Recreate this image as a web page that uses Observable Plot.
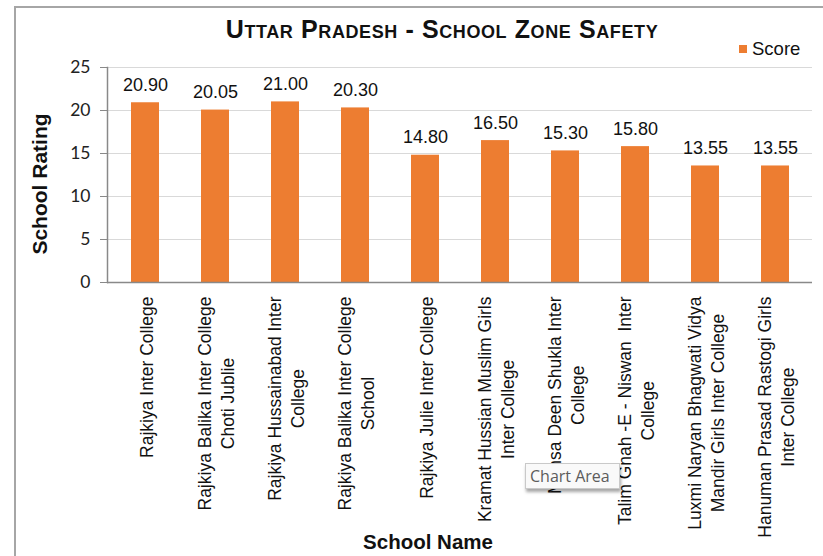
<!DOCTYPE html>
<html><head><meta charset="utf-8">
<script src="https://cdn.jsdelivr.net/npm/d3@7"></script>
<script src="https://cdn.jsdelivr.net/npm/@observablehq/plot@0.6"></script>
<style>
html,body{margin:0;padding:0;background:#fff;overflow:hidden;width:823px;height:556px;}
#wrap{position:relative;width:823px;height:556px;overflow:hidden;font-family:"Liberation Sans",Arial,sans-serif;}
#border{position:absolute;left:14px;top:6px;width:1000px;height:1000px;border:2px solid #a6a6a6;box-sizing:border-box;}
#chart{position:absolute;left:0;top:0;}
#title{position:absolute;left:442px;top:15px;transform:translateX(-50%);white-space:nowrap;font-weight:bold;font-size:25px;letter-spacing:0.6px;font-variant:small-caps;color:#111;}
#legend{position:absolute;left:739px;top:38px;white-space:nowrap;font-size:18.5px;color:#111;display:flex;align-items:center;}
#legend .sw{display:inline-block;width:8px;height:8px;background:#ED7D31;margin-right:5px;}
#tip{position:absolute;left:525px;top:463px;width:95px;height:26px;box-sizing:border-box;border:1px solid #c9c9c9;background:#f9f9f9;box-shadow:1px 3px 3px rgba(0,0,0,0.35);font-family:"Open Sans",sans-serif;font-size:16px;color:#5c5c5c;line-height:24px;padding-left:4px;white-space:nowrap;}
</style>
</head><body>
<div id="wrap">
  <div id="border"></div>
  <div id="chart"></div>
  <div id="title">Uttar Pradesh - School Zone Safety</div>
  <div id="legend"><span class="sw"></span>Score</div>
  <div id="tip">Chart Area</div>
</div>
<script>
const schools = [
  "Rajkiya Inter College",
  "Rajkiya Balika Inter College Choti Jublie",
  "Rajkiya Hussainabad Inter College",
  "Rajkiya Balika Inter College School",
  "Rajkiya Julie Inter College",
  "Kramat Hussian Muslim Girls Inter College",
  "Mansa Deen Shukla Inter College",
  "Talim Gnah -E - Niswan  Inter College",
  "Luxmi Naryan Bhagwati Vidya Mandir Girls Inter College",
  "Hanuman Prasad Rastogi Girls Inter College"
];
const tickLabels = [
  "Rajkiya Inter College",
  "Rajkiya Balika Inter College\nChoti Jublie",
  "Rajkiya Hussainabad Inter\nCollege",
  "Rajkiya Balika Inter College\nSchool",
  "Rajkiya Julie Inter College",
  "Kramat Hussian Muslim Girls\nInter College",
  "Mansa Deen Shukla Inter\nCollege",
  "Talim Gnah -E - Niswan  Inter\nCollege",
  "Luxmi Naryan Bhagwati Vidya\nMandir Girls Inter College",
  "Hanuman Prasad Rastogi Girls\nInter College"
];
const scores = [20.90, 20.05, 21.00, 20.30, 14.80, 16.50, 15.30, 15.80, 13.55, 13.55];
const yTicks = [0, 5, 10, 15, 20, 25];

const data = schools.map((s, i) => ({school: s, score: scores[i], label: tickLabels[i]}));
const labelOf = new Map(data.map(d => [d.school, d.label]));

const orange = "#ED7D31";
const axisGray = "#898989";
const font = "'Liberation Sans', Arial, sans-serif";

const chart = Plot.plot({
  width: 823,
  height: 556,
  marginLeft: 107,
  marginRight: 11,
  marginTop: 67,
  marginBottom: 274,
  style: {fontFamily: font, background: "transparent", overflow: "visible"},
  x: {domain: schools, paddingInner: 0.6, paddingOuter: 0.3, label: null},
  y: {domain: [0, 25], ticks: yTicks, label: null},
  marks: [
    Plot.gridY(yTicks, {stroke: "#d9d9d9", strokeOpacity: 1, strokeWidth: 1.2}),
    Plot.barY(data, {x: "school", y: "score", fill: orange}),
    Plot.ruleY([0], {stroke: axisGray, strokeWidth: 1.5}),
    Plot.frame({anchor: "left", stroke: axisGray, strokeWidth: 1.5}),
    Plot.axisY(yTicks, {tickSize: 7, tickPadding: 10, stroke: axisGray, fontSize: 17.5, fontFamily: "Lato, 'Open Sans', sans-serif", fill: "#222", label: null}),
    Plot.axisX({tickSize: 0, tickPadding: 14, tickRotate: -90, fontSize: 17.5, lineHeight: 1.3, fill: "#111", tickFormat: d => labelOf.get(d), label: null}),
    Plot.text(data, {x: "school", y: "score", text: d => d.score.toFixed(2), dy: -12, lineAnchor: "bottom", fontSize: 18, fill: "#111"}),
    Plot.text(["School Rating"], {frameAnchor: "left", textAnchor: "middle", rotate: -90, dx: -67, dy: 9, fontSize: 21, fontWeight: "bold", fill: "#111"}),
    Plot.text(["School Name"], {frameAnchor: "bottom", textAnchor: "middle", dx: -32, dy: 266, lineAnchor: "bottom", fontSize: 20.5, fontWeight: "bold", fill: "#111"})
  ]
});
document.getElementById("chart").appendChild(chart);

// center the wrapped lines of each rotated tick label on one another, as the original does
d3.select(chart).selectAll("g[aria-label='x-axis tick label'] text").each(function() {
  const spans = Array.from(this.querySelectorAll("tspan"));
  if (spans.length < 2) return;
  const widths = spans.map(s => s.getComputedTextLength());
  const maxW = Math.max(...widths);
  spans.forEach((s, i) => s.setAttribute("x", -(maxW - widths[i]) / 2));
});
</script>
</body></html>
